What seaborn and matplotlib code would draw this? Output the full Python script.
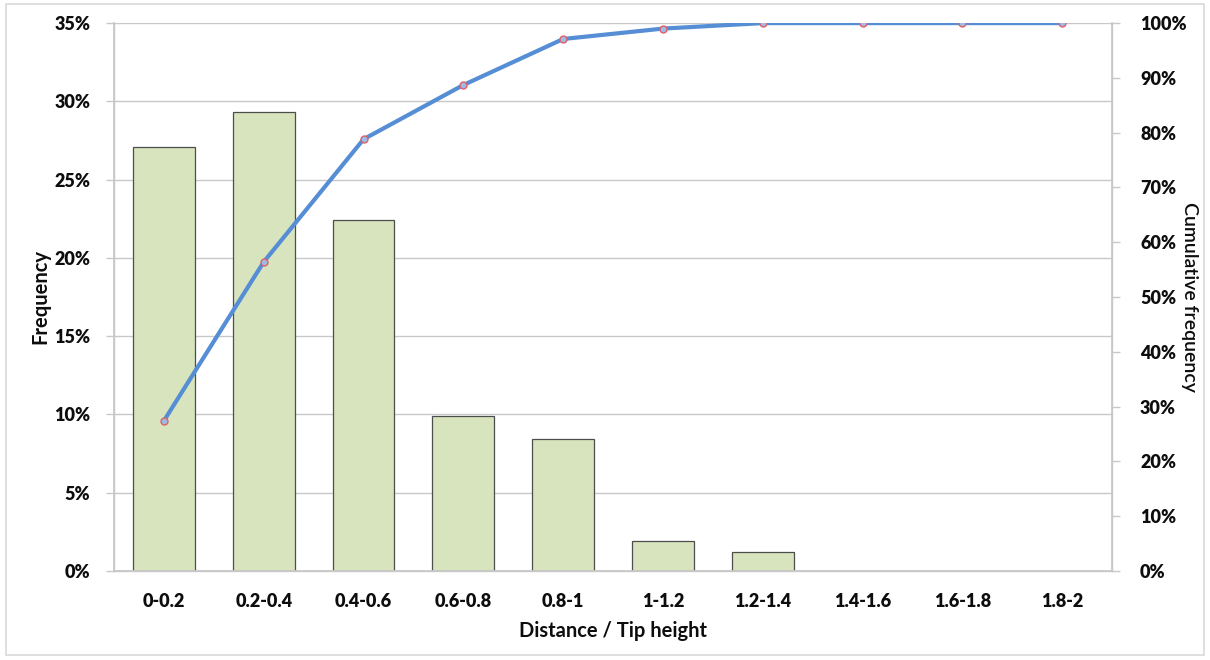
import numpy as np
import pandas as pd
import matplotlib
matplotlib.use("Agg")
import matplotlib.pyplot as plt
import seaborn as sns
from matplotlib.patches import Rectangle
from matplotlib.ticker import FuncFormatter, MultipleLocator

# Binned distance (normalised by tip height)
bins = ["0-0.2", "0.2-0.4", "0.4-0.6", "0.6-0.8", "0.8-1",
        "1-1.2", "1.2-1.4", "1.4-1.6", "1.6-1.8", "1.8-2"]
frequency = [27.1, 29.3, 22.4, 9.9, 8.4, 1.9, 1.2, 0.0, 0.0, 0.0]          # %
cumulative = [27.4, 56.4, 78.8, 88.7, 97.1, 99.0, 100.0, 100.0, 100.0, 100.0]  # %

sns.set_theme(style="white")
plt.rcParams["font.family"] = ["Lato", "DejaVu Sans"]

df = pd.DataFrame({"bin": bins, "freq": frequency, "cum": cumulative})

fig = plt.figure(figsize=(12.1, 6.6), dpi=100)
ax = fig.add_axes([0.0942, 0.135, 0.8250, 0.830])

grid_c = "#c8c8c8"
text_c = "#0d0d0d"
sns.barplot(data=df, x="bin", y="freq", ax=ax, color="#d7e4bd",
            saturation=1, width=0.62, edgecolor="#4d4d4d", linewidth=0.9,
            zorder=2)

ax.set_ylim(0, 35)
ax.set_xlim(-0.5, len(bins) - 0.5)
ax.yaxis.set_major_locator(MultipleLocator(5))
ax.yaxis.set_major_formatter(FuncFormatter(lambda v, _: f"{v:.0f}%"))
ax.grid(axis="y", color=grid_c, linewidth=1.0, zorder=0)
ax.set_axisbelow(True)

for side in ["left", "bottom", "right"]:
    ax.spines[side].set_color(grid_c)
    ax.spines[side].set_linewidth(1.0)
ax.spines["top"].set_visible(False)

# category boundary ticks on the x axis
ax.set_xticks(np.arange(len(bins)))
ax.set_xticklabels(bins, fontsize=13, fontweight="heavy", color=text_c)
ax.set_xticks(np.arange(len(bins) + 1) - 0.5, minor=True)
ax.tick_params(axis="x", which="major", length=0, pad=16)
ax.tick_params(axis="x", which="minor", length=7, color=grid_c, width=1.0,
               direction="out")
ax.tick_params(axis="y", length=6, color=grid_c, width=1.0, direction="out",
               left=True, labelsize=13, pad=11)
for t in ax.get_yticklabels():
    t.set_fontweight("heavy")
    t.set_color(text_c)

ax.set_xlabel("Distance / Tip height", fontsize=14.5, fontweight="bold",
              color=text_c, labelpad=8)
ax.set_ylabel("Frequency", fontsize=14.5, fontweight="bold", color=text_c,
              labelpad=3)

# cumulative curve on the secondary axis
ax2 = ax.twinx()
sns.lineplot(x=np.arange(len(bins)), y=df["cum"], ax=ax2, color="#558ed5",
             linewidth=3.0, marker="o", markersize=5,
             markerfacecolor="#9dbbe3", markeredgecolor="#e0606a",
             markeredgewidth=1.0, zorder=5)
ax2.set_ylim(0, 100)
ax2.set_xlim(-0.5, len(bins) - 0.5)
ax2.yaxis.set_major_locator(MultipleLocator(10))
ax2.yaxis.set_major_formatter(FuncFormatter(lambda v, _: f"{v:.0f}%"))
ax2.tick_params(axis="y", length=6, color=grid_c, width=1.0, direction="out",
                right=True, labelsize=13, pad=14)
for t in ax2.get_yticklabels():
    t.set_fontweight("heavy")
    t.set_color(text_c)
ax2.set_ylabel("Cumulative frequency", fontsize=14, fontweight="semibold",
               color=text_c, rotation=270, labelpad=8)
for side in ["left", "bottom", "right"]:
    ax2.spines[side].set_color(grid_c)
ax2.spines["top"].set_visible(False)
ax2.grid(False)

# light frame round the whole chart
fig.patches.append(Rectangle((0.005, 0.007), 0.99, 0.987,
                             transform=fig.transFigure, fill=False,
                             edgecolor="#d9d9d9", linewidth=1.2))

fig.savefig("out.png", dpi=100)
